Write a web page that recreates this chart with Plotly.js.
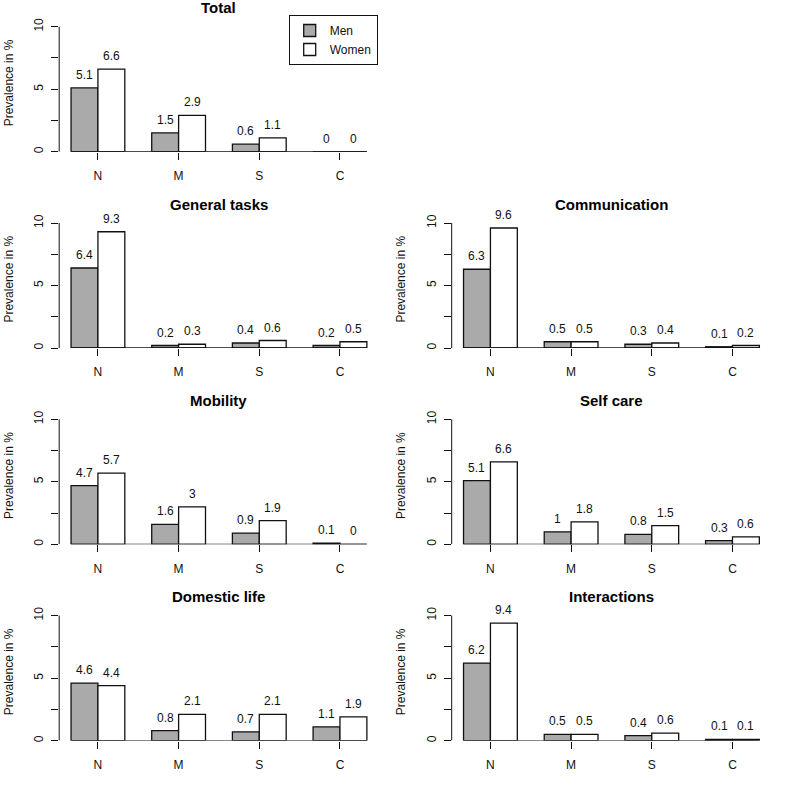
<!DOCTYPE html>
<html><head><meta charset="utf-8">
<script src="https://cdn.plot.ly/plotly-3.0.1.min.js"></script>
<style>html,body{margin:0;padding:0;background:#fff}#chart{width:785px;height:785px}</style>
</head><body><div id="chart"></div><script>
// ---- data ----
const categories = ["N", "M", "S", "C"];
const seriesNames = ["Men", "Women"];
const panelTitles = ["Total", "General tasks", "Communication", "Mobility", "Self care", "Domestic life", "Interactions"];
const totalMen = [5.1, 1.5, 0.6, 0];
const totalWomen = [6.6, 2.9, 1.1, 0];
const generalTasksMen = [6.4, 0.2, 0.4, 0.2];
const generalTasksWomen = [9.3, 0.3, 0.6, 0.5];
const communicationMen = [6.3, 0.5, 0.3, 0.1];
const communicationWomen = [9.6, 0.5, 0.4, 0.2];
const mobilityMen = [4.7, 1.6, 0.9, 0.1];
const mobilityWomen = [5.7, 3, 1.9, 0];
const selfCareMen = [5.1, 1, 0.8, 0.3];
const selfCareWomen = [6.6, 1.8, 1.5, 0.6];
const domesticLifeMen = [4.6, 0.8, 0.7, 1.1];
const domesticLifeWomen = [4.4, 2.1, 2.1, 1.9];
const interactionsMen = [6.2, 0.5, 0.4, 0.1];
const interactionsWomen = [9.4, 0.5, 0.6, 0.1];
const yTickVals = [0, 2.5, 5, 7.5, 10];
const yTickText = ["0", "", "5", "", "10"];
const yAxisTitle = "Prevalence in %";

// ---- layout / styling ----
const W = 785, H = 785;
const FONT = "Liberation Sans, Arial, Helvetica, sans-serif";
const menColor = "#aaaaaa", womenColor = "#ffffff", ink = "#111111";
const panelMen = [totalMen, generalTasksMen, communicationMen, mobilityMen, selfCareMen, domesticLifeMen, interactionsMen];
const panelWomen = [totalWomen, generalTasksWomen, communicationWomen, mobilityWomen, selfCareWomen, domesticLifeWomen, interactionsWomen];
const panelCells = [[0, 0], [1, 0], [1, 1], [2, 0], [2, 1], [3, 0], [3, 1]];
const colLeft = [59.2, 451.7], plotW = 319.5;
const rowTop0 = 14.2, plotH = 137.5, rowStep = 196.3;

const traces = [], annotations = [], shapes = [];
const layout = {
  width: W, height: H, autosize: false,
  margin: {l: 0, r: 0, t: 0, b: 0},
  paper_bgcolor: "#fff", plot_bgcolor: "#fff",
  font: {family: FONT, size: 12, color: ink},
  barmode: "group", bargap: 1 / 3, bargroupgap: 0,
  showlegend: true,
  legend: {
    x: 377.7 / W, xanchor: "right", y: 1 - 15 / H, yanchor: "top",
    bordercolor: ink, borderwidth: 1, bgcolor: "#fff",
    font: {family: FONT, size: 12, color: ink},
    itemwidth: 30, tracegroupgap: 0
  },
  annotations: annotations, shapes: shapes
};

panelTitles.forEach((title, i) => {
  const s = i === 0 ? "" : String(i + 1);
  const [row, col] = panelCells[i];
  const left = colLeft[col];
  const top = rowTop0 + row * rowStep;
  const xa = "x" + s, ya = "y" + s;
  const series = [panelMen[i], panelWomen[i]];
  const fills = [menColor, womenColor];
  series.forEach((vals, k) => {
    traces.push({
      type: "bar", name: seriesNames[k], x: categories, y: vals,
      xaxis: xa, yaxis: ya,
      marker: {color: fills[k], line: {color: ink, width: 1.3}},
      showlegend: i === 0, hoverinfo: "skip", cliponaxis: false
    });
    vals.forEach((v, j) => {
      annotations.push({
        xref: xa, yref: ya, x: j + (k === 0 ? -1 / 6 : 1 / 6), y: v,
        text: String(v), showarrow: false, yanchor: "middle", yshift: 13,
        font: {family: FONT, size: 12, color: ink}
      });
    });
  });
  layout["xaxis" + s] = {
    domain: [left / W, (left + plotW) / W], anchor: ya,
    type: "category", range: [-0.48, 3.48],
    showgrid: false, zeroline: false, showline: false,
    ticks: "outside", ticklen: 7, tickwidth: 1, tickcolor: ink,
    ticklabelstandoff: 6,
    tickfont: {family: FONT, size: 12, color: ink}, fixedrange: true
  };
  layout["yaxis" + s] = {
    domain: [1 - (top + plotH) / H, 1 - top / H], anchor: xa,
    range: [0, 11], tickvals: yTickVals, ticktext: yTickText, tickangle: -90,
    showgrid: false, zeroline: false, showline: false,
    ticks: "outside", ticklen: 7, tickwidth: 1, tickcolor: ink,
    ticklabelstandoff: 3,
    tickfont: {family: FONT, size: 12, color: ink},
    title: {text: yAxisTitle, font: {family: FONT, size: 12, color: ink}, standoff: 16},
    fixedrange: true
  };
  // R-style axis line from first to last tick
  shapes.push({type: "line", xref: xa + " domain", x0: 0, x1: 0, yref: ya, y0: yTickVals[0], y1: yTickVals[yTickVals.length - 1], line: {color: ink, width: 1}});
  // baseline under the bars
  shapes.push({type: "line", xref: xa, x0: -1 / 3, x1: categories.length - 1 + 1 / 3, yref: ya, y0: 0, y1: 0, line: {color: ink, width: 1.3}});
  annotations.push({
    xref: xa + " domain", x: 0.5, yref: "paper", y: 1 - (top - 6.3) / H,
    text: "<b>" + title + "</b>", showarrow: false, yanchor: "middle",
    font: {family: FONT, size: 15, color: "#000"}
  });
});

Plotly.newPlot("chart", traces, layout, {displayModeBar: false, staticPlot: true});
</script></body></html>
